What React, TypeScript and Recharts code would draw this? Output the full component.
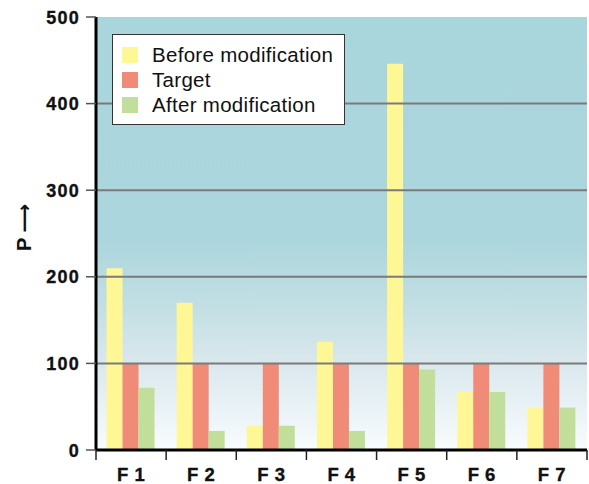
import React from 'react';
import { BarChart, Bar, XAxis, YAxis, CartesianGrid, ReferenceLine, Legend } from 'recharts';

// Measured P per component
const categories = ['F 1', 'F 2', 'F 3', 'F 4', 'F 5', 'F 6', 'F 7'];
const beforeValues = [210, 170, 28, 125, 446, 67, 49];
const targetValues = [100, 100, 100, 100, 100, 100, 100];
const afterValues = [72, 22, 28, 22, 93, 67, 49];

const yTicks = [0, 100, 200, 300, 400, 500];
const gridValues = [100, 200, 300, 400];

const seriesKeys = ['before', 'target', 'after'];
const seriesNames: Record<string, string> = {
  before: 'Before modification',
  target: 'Target',
  after: 'After modification',
};
const seriesColors: Record<string, string> = {
  before: '#fff796',
  target: '#f08b78',
  after: '#c1de9b',
};

const data = categories.map((name, i) => ({
  name,
  before: beforeValues[i],
  target: targetValues[i],
  after: afterValues[i],
}));

const FONT = '"Liberation Sans", Arial, Helvetica, sans-serif';

// Category label centred in its band, with tick marks on the band boundaries
const CategoryTick = (props: any) => {
  const { x, y, payload } = props;
  const half = payload.offset ?? 0;
  const isLast = payload.value === categories[categories.length - 1];
  return (
    <g>
      <line x1={x - half} x2={x - half} y1={y} y2={y + 10} stroke="#222" strokeWidth={1.5} />
      {isLast && <line x1={x + half} x2={x + half} y1={y} y2={y + 10} stroke="#222" strokeWidth={1.5} />}
      <text
        x={x}
        y={y + 31}
        textAnchor="middle"
        fontWeight="bold"
        fontSize={18.5}
        letterSpacing={0.5}
        fill="#111"
        stroke="#111"
        strokeWidth={0.35}
        fontFamily={FONT}
      >
        {payload.value}
      </text>
    </g>
  );
};

const ValueTick = (props: any) => {
  const { x, y, payload } = props;
  return (
    <text
      x={x}
      y={y}
      dy={6.5}
      textAnchor="end"
      fontWeight="bold"
      fontSize={18}
      letterSpacing={1.2}
      fill="#111"
      stroke="#111"
      strokeWidth={0.35}
      fontFamily={FONT}
    >
      {payload.value}
    </text>
  );
};

const AxisTitle = (props: any) => {
  const vb = props.viewBox || { x: 0, y: 0, width: 0, height: 0 };
  const cx = vb.x + 24;
  const cy = vb.y + vb.height / 2 - 6;
  return (
    <text
      x={cx}
      y={cy}
      transform={`rotate(-90, ${cx}, ${cy})`}
      textAnchor="middle"
      dominantBaseline="central"
      fontWeight="bold"
      fontSize={20}
      fill="#111"
      fontFamily={`${FONT}, "DejaVu Sans"`}
    >
      P ⟶
    </text>
  );
};

const LegendBox = (props: any) => {
  const { payload = [] } = props;
  const ordered = seriesKeys
    .map((k) => payload.find((p: any) => p.dataKey === k))
    .filter(Boolean);
  return (
    <div
      style={{
        boxSizing: 'border-box',
        width: 233,
        height: 91,
        background: '#fff',
        border: '1.5px solid #333',
        padding: '7px 0 0 9px',
        fontFamily: FONT,
      }}
    >
      {ordered.map((entry: any) => (
        <div key={entry.value} style={{ display: 'flex', alignItems: 'center', height: 25 }}>
          <span style={{ width: 16, height: 16, background: entry.color, display: 'inline-block' }} />
          <span style={{ marginLeft: 14, fontSize: 20.5, letterSpacing: 0.3, color: '#111', lineHeight: '16px' }}>
            {entry.value}
          </span>
        </div>
      ))}
    </div>
  );
};

export default function App() {
  return (
    <div style={{ position: 'absolute', left: 0, top: 0, fontFamily: FONT }}>
      <svg width={0} height={0} style={{ position: 'absolute' }}>
        <defs>
          <linearGradient id="plotBg" x1="0" y1="0" x2="0" y2="1">
            <stop offset="0%" stopColor="#a9d5dc" />
            <stop offset="52%" stopColor="#acd6dd" />
            <stop offset="68%" stopColor="#c4e0e4" />
            <stop offset="80%" stopColor="#dae8ed" />
            <stop offset="90%" stopColor="#e9f2f6" />
            <stop offset="100%" stopColor="#f8fcfd" />
          </linearGradient>
        </defs>
      </svg>
      <BarChart
        width={589}
        height={484}
        data={data}
        margin={{ top: 17, right: 2, left: 0, bottom: 4 }}
        barCategoryGap="15%"
        barGap={0}
      >
        <CartesianGrid horizontal={false} vertical={false} fill="url(#plotBg)" />
        <XAxis
          dataKey="name"
          height={30}
          axisLine={{ stroke: '#000', strokeWidth: 3 }}
          tickLine={false}
          tickSize={0}
          tickMargin={0}
          tick={<CategoryTick />}
          interval={0}
        />
        <YAxis
          width={96}
          domain={[0, 500]}
          ticks={yTicks}
          allowDataOverflow
          axisLine={{ stroke: '#000', strokeWidth: 3 }}
          tickLine={{ stroke: '#555', strokeWidth: 1.5 }}
          tickSize={10}
          tickMargin={6}
          tick={<ValueTick />}
          label={<AxisTitle />}
        />
        {seriesKeys.map((k) => (
          <Bar key={k} dataKey={k} name={seriesNames[k]} fill={seriesColors[k]} isAnimationActive={false} />
        ))}
        {gridValues.map((v) => (
          <ReferenceLine key={v} y={v} stroke="#7a7a7a" strokeWidth={2} />
        ))}
        <Legend
          layout="vertical"
          align="center"
          verticalAlign="middle"
          content={<LegendBox />}
          wrapperStyle={{ left: 112, top: 34, width: 233, height: 91 }}
        />
      </BarChart>
    </div>
  );
}
